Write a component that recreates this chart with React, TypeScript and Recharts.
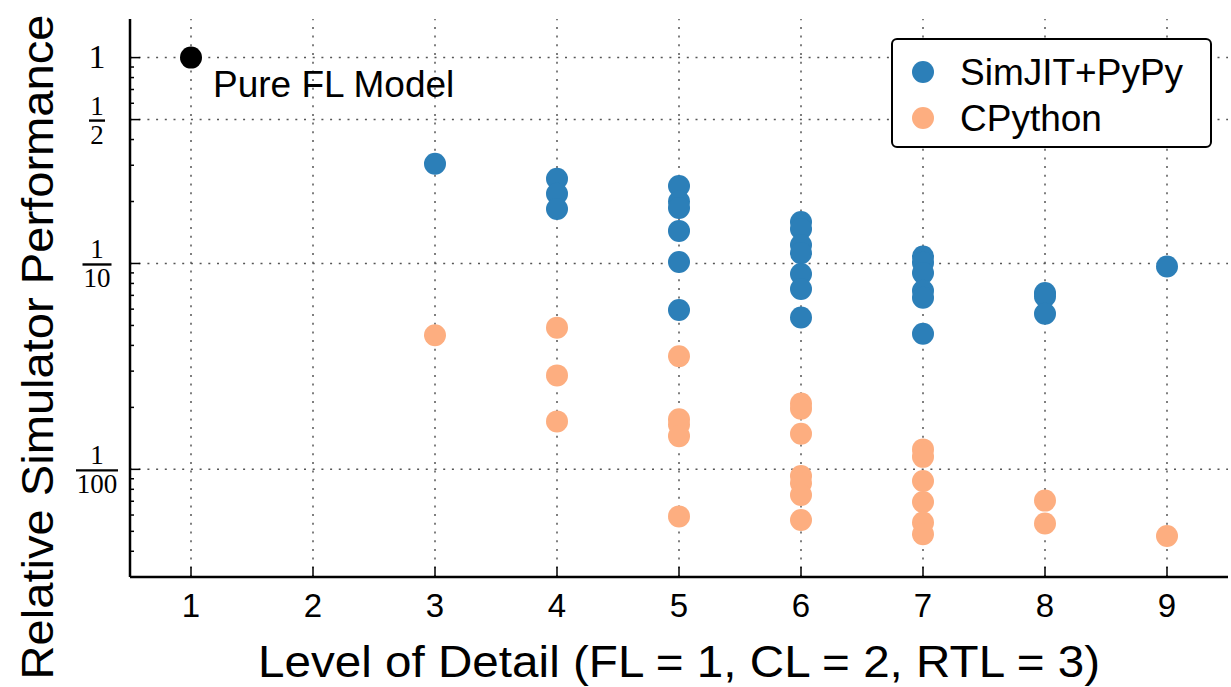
import { ScatterChart, Scatter, XAxis, YAxis, ReferenceLine, Legend, Label } from 'recharts';

// x categories (level of detail)
const levels = [1, 2, 3, 4, 5, 6, 7, 8, 9];

// y ticks (log scale): labelled majors and unlabelled minors
const yMajorTicks = [1, 0.5, 0.1, 0.01];
const yMinorTicks = [
  0.9, 0.8, 0.7, 0.6, 0.4, 0.3, 0.2,
  0.09, 0.08, 0.07, 0.06, 0.05, 0.04, 0.03, 0.02,
  0.009, 0.008, 0.007, 0.006, 0.005, 0.004,
];
const yTickDenominators: Record<string, string> = { '1': '', '0.5': '2', '0.1': '10', '0.01': '100' };

// Pure FL reference point
const pureFlLevel = [1];
const pureFlPerf = [1];

// SimJIT+PyPy
const simjitLevel = [3, 4, 4, 4, 5, 5, 5, 5, 5, 5, 6, 6, 6, 6, 6, 6, 6, 7, 7, 7, 7, 7, 7, 8, 8, 8, 9];
const simjitPerf = [
  0.305,
  0.258, 0.218, 0.184,
  0.238, 0.2, 0.186, 0.144, 0.1016, 0.0594,
  0.159, 0.147, 0.123, 0.112, 0.0888, 0.0751, 0.0547,
  0.108, 0.1008, 0.0898, 0.0737, 0.0682, 0.0456,
  0.0719, 0.0692, 0.057,
  0.0967,
];

// CPython
const cpythonLevel = [3, 4, 4, 4, 5, 5, 5, 5, 5, 6, 6, 6, 6, 6, 6, 6, 7, 7, 7, 7, 7, 7, 8, 8, 9];
const cpythonPerf = [
  0.0448,
  0.0488, 0.0286, 0.0171,
  0.0354, 0.0175, 0.0165, 0.0145, 0.00591,
  0.0209, 0.0197, 0.0149, 0.00929, 0.00855, 0.0075, 0.00568,
  0.0125, 0.0115, 0.00877, 0.00694, 0.00552, 0.00484,
  0.00705, 0.00546,
  0.00475,
];

const BLUE = '#2c7fb8';
const ORANGE = '#fdae80';
const GRID = '#555';
const SANS = '"Liberation Sans", Arial, Helvetica, sans-serif';
const SERIF = '"Liberation Serif", "DejaVu Serif", serif';

const toPoints = (xs: number[], ys: number[]) => xs.map((level, i) => ({ level, perf: ys[i] }));

const pureFlData = toPoints(pureFlLevel, pureFlPerf);
const simjitData = toPoints(simjitLevel, simjitPerf);
const cpythonData = toPoints(cpythonLevel, cpythonPerf);

function dot(color: string) {
  return (props: any) => <circle cx={props.cx} cy={props.cy} r={11} fill={color} />;
}

function pureFlShape(props: any) {
  return (
    <g>
      <circle cx={props.cx} cy={props.cy} r={11} fill="#000" />
      <text x={props.cx + 22} y={props.cy + 39} fontFamily={SANS} fontSize={37} fill="#000">
        Pure FL Model
      </text>
    </g>
  );
}

function XTick({ x, y, payload }: any) {
  return (
    <g>
      <line x1={x} x2={x} y1={y} y2={y - 10} stroke="#000" strokeWidth={1.5} />
      <text x={x} y={y + 40} textAnchor="middle" fontFamily={SANS} fontSize={33} fill="#000">
        {payload.value}
      </text>
    </g>
  );
}

function YTick({ x, y, payload }: any) {
  const key = String(payload.value);
  const isMajor = key in yTickDenominators;
  const cx = x - 33;
  let label = null;
  if (isMajor) {
    const den = yTickDenominators[key];
    if (den === '') {
      label = (
        <text x={cx} y={y + 10} textAnchor="middle" fontFamily={SERIF} fontSize={34} fill="#000">1</text>
      );
    } else {
      const half = den.length * 6.5 + 1.5;
      label = (
        <g>
          <text x={cx} y={y - 5} textAnchor="middle" fontFamily={SERIF} fontSize={27} fill="#000">1</text>
          <line x1={cx - half} x2={cx + half} y1={y + 1} y2={y + 1} stroke="#000" strokeWidth={2.4} />
          <text x={cx} y={y + 24} textAnchor="middle" fontFamily={SERIF} fontSize={27} fill="#000">{den}</text>
        </g>
      );
    }
  }
  return (
    <g>
      <line x1={x} x2={x + (isMajor ? 10 : 4)} y1={y} y2={y} stroke="#000" strokeWidth={1.5} />
      {label}
    </g>
  );
}

function LegendBox() {
  const rows = [
    { name: 'SimJIT+PyPy', color: BLUE, cy: 34 },
    { name: 'CPython', color: ORANGE, cy: 80 },
  ];
  return (
    <div
      style={{
        boxSizing: 'border-box',
        width: 321,
        height: 110,
        border: '2px solid #000',
        borderRadius: 6,
        background: '#fff',
        position: 'relative',
        fontFamily: SANS,
      }}
    >
      {rows.map((r) => (
        <div
          key={r.name}
          style={{
            position: 'absolute',
            left: 0,
            top: r.cy - 22,
            height: 40,
            display: 'flex',
            alignItems: 'center',
            whiteSpace: 'nowrap',
          }}
        >
          <span
            style={{
              display: 'inline-block',
              marginLeft: 19,
              width: 22,
              height: 22,
              borderRadius: '50%',
              background: r.color,
            }}
          />
          <span style={{ marginLeft: 26, fontSize: 37, lineHeight: 1, color: '#000' }}>{r.name}</span>
        </div>
      ))}
    </div>
  );
}

export default function App() {
  return (
    <div style={{ position: 'absolute', left: 0, top: 0, width: 1231, height: 687, background: '#fff' }}>
      <ScatterChart width={1231} height={687} margin={{ top: 19, right: 3, bottom: 0, left: 0 }}>
        <XAxis
          dataKey="level"
          type="number"
          domain={[0.5, 9.5]}
          ticks={levels}
          interval={0}
          allowDataOverflow
          height={110}
          tickSize={0}
          tickMargin={0}
          tickLine={false}
          tick={<XTick />}
          axisLine={{ stroke: '#000', strokeWidth: 2.5 }}
        >
          <Label
            content={({ viewBox }: any) => (
              <text
                x={viewBox.x + viewBox.width / 2}
                y={viewBox.y + 100}
                textAnchor="middle"
                fontFamily={SANS}
                fontSize={45}
                textLength={842}
                lengthAdjust="spacingAndGlyphs"
                fill="#000"
              >
                Level of Detail (FL = 1, CL = 2, RTL = 3)
              </text>
            )}
          />
        </XAxis>
        <YAxis
          dataKey="perf"
          type="number"
          scale="log"
          domain={[0.003, 1.54]}
          ticks={[...yMajorTicks, ...yMinorTicks]}
          interval={0}
          allowDataOverflow
          width={130}
          tickSize={0}
          tickMargin={0}
          tickLine={false}
          tick={<YTick />}
          axisLine={{ stroke: '#000', strokeWidth: 2.5 }}
        >
          <Label
            content={({ viewBox }: any) => (
              <text
                x={viewBox.x + 53}
                y={347}
                transform={`rotate(-90, ${viewBox.x + 53}, 347)`}
                textAnchor="middle"
                fontFamily={SANS}
                fontSize={45}
                textLength={665}
                lengthAdjust="spacingAndGlyphs"
                fill="#000"
              >
                Relative Simulator Performance
              </text>
            )}
          />
        </YAxis>
        {yMajorTicks.map((v) => (
          <ReferenceLine key={`h${v}`} y={v} stroke={GRID} strokeWidth={1.5} strokeDasharray="2 6.7" />
        ))}
        {levels.map((v) => (
          <ReferenceLine key={`v${v}`} x={v} stroke={GRID} strokeWidth={1.5} strokeDasharray="2 6.7" />
        ))}
        <Legend
          layout="vertical"
          align="center"
          verticalAlign="middle"
          content={() => <LegendBox />}
          wrapperStyle={{ position: 'absolute', top: 38, left: 891, width: 321, height: 110 }}
        />
        <Scatter name="Pure FL Model" data={pureFlData} shape={pureFlShape} legendType="none" isAnimationActive={false} />
        <Scatter name="SimJIT+PyPy" data={simjitData} shape={dot(BLUE)} fill={BLUE} isAnimationActive={false} />
        <Scatter name="CPython" data={cpythonData} shape={dot(ORANGE)} fill={ORANGE} isAnimationActive={false} />
      </ScatterChart>
    </div>
  );
}
